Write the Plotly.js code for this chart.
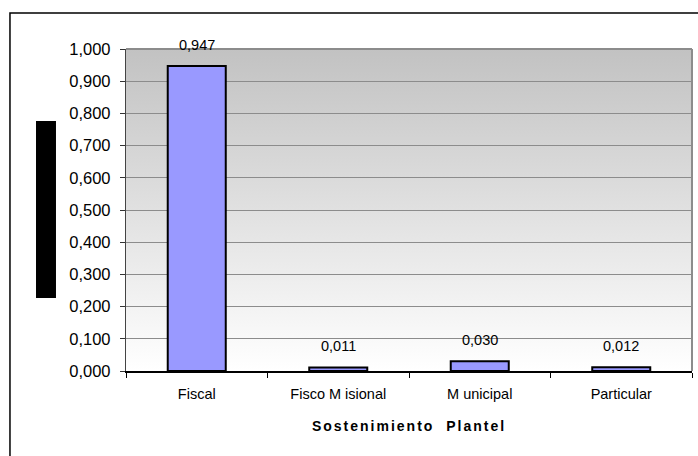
<!DOCTYPE html>
<html>
<head>
<meta charset="utf-8">
<script src="https://cdn.plot.ly/plotly-3.0.1.min.js"></script>
<style>html,body{margin:0;padding:0;background:#fff;}#chart{width:698px;height:456px;}</style>
</head>
<body>
<div id="chart"></div>
<script>
const categories = ["Fiscal", "Fisco M isional", "M unicipal", "Particular"];
const values = [0.947, 0.011, 0.030, 0.012];
const valueLabels = ["0,947", "0,011", "0,030", "0,012"];
const yTicks = [0, 0.1, 0.2, 0.3, 0.4, 0.5, 0.6, 0.7, 0.8, 0.9, 1.0];
const xTitle = "Sostenimiento  Plantel";

const grad = 'data:image/svg+xml;utf8,' + encodeURIComponent(
  '<svg xmlns="http://www.w3.org/2000/svg" width="100" height="100" preserveAspectRatio="none">' +
  '<defs><linearGradient id="g" x1="0" y1="0" x2="0" y2="1">' +
  '<stop offset="0" stop-color="#c2c2c2"/><stop offset="1" stop-color="#ffffff"/></linearGradient></defs>' +
  '<rect width="100" height="100" fill="url(#g)"/></svg>');

const trace = {
  type: 'bar',
  x: categories,
  y: values,
  marker: {color: '#9999ff', line: {color: '#000', width: 2}},
  width: 0.41,
  hoverinfo: 'none'
};

const labelAnnotations = categories.map(function (c, i) {
  return {
    x: c, y: values[i], xref: 'x', yref: 'y',
    text: valueLabels[i], showarrow: false,
    yanchor: 'bottom', yshift: 11,
    font: {family: 'Liberation Sans, Arial, sans-serif', size: 14.5, color: '#000'}
  };
});

const layout = {
  width: 698, height: 456,
  margin: {l: 126, r: 6, t: 49, b: 85},
  paper_bgcolor: '#ffffff',
  plot_bgcolor: 'rgba(0,0,0,0)',
  separators: ', ',
  showlegend: false,
  font: {family: 'Liberation Sans, Arial, sans-serif', size: 14, color: '#000'},
  xaxis: {
    type: 'category',
    range: [-0.5, 3.5],
    tickson: 'boundaries',
    ticks: 'outside', ticklen: 5, tickcolor: '#000', tickwidth: 1,
    showline: true, linecolor: '#000', linewidth: 1.5,
    showgrid: false, zeroline: false,
    tickfont: {size: 14.5},
    ticklabelstandoff: 9,
    title: {text: xTitle, font: {size: 14, weight: 'bold'}, standoff: 20}
  },
  yaxis: {
    range: [0, 1.0],
    tickvals: yTicks,
    tickformat: '.3f',
    ticks: 'outside', ticklen: 5, tickcolor: '#333', tickwidth: 1,
    showline: true, linecolor: '#444', linewidth: 1.2,
    showgrid: true, gridcolor: '#8c8c8c', gridwidth: 1,
    zeroline: false,
    tickfont: {size: 16.5},
    ticklabelstandoff: 6
  },
  annotations: labelAnnotations,
  images: [{
    source: grad, xref: 'paper', yref: 'paper', x: 0, y: 1, sizex: 1, sizey: 1,
    sizing: 'stretch', layer: 'below', xanchor: 'left', yanchor: 'top'
  }],
  shapes: [
    {type: 'line', xref: 'paper', yref: 'paper', x0: 0, x1: 1, y0: 1, y1: 1, line: {color: '#8c8c8c', width: 2}},
    {type: 'line', xref: 'paper', yref: 'paper', x0: 1, x1: 1, y0: 0, y1: 1, line: {color: '#8c8c8c', width: 2}},
    {type: 'rect', xref: 'paper', yref: 'paper', x0: -0.1590, x1: -0.1237, y0: 0.2267, y1: 0.7764, fillcolor: '#000', line: {width: 0}},
    {type: 'rect', xref: 'paper', yref: 'paper', x0: -0.2050, x1: 1.05, y0: -0.35, y1: 1.1118, fillcolor: 'rgba(0,0,0,0)', line: {color: '#000', width: 1.5}}
  ]
};

Plotly.newPlot('chart', [trace], layout, {displayModeBar: false, staticPlot: true}).then(function (gd) {
  const t = gd.querySelector('.g-xtitle text');
  if (t) { t.style.letterSpacing = '2px'; }
});
</script>
</body>
</html>
